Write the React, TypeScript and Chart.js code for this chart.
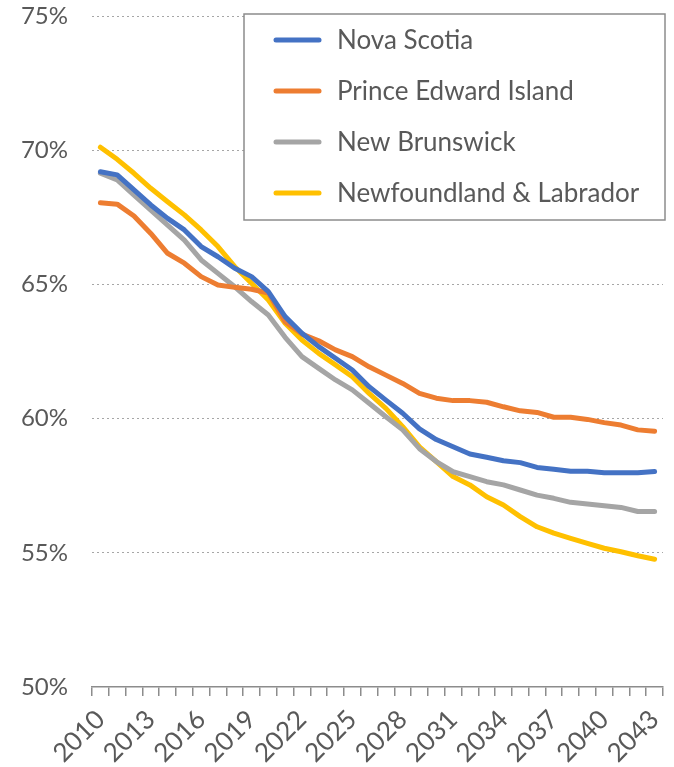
import React, { useEffect, useRef } from "react";
import { Chart, registerables } from "chart.js";

Chart.register(...registerables);

const years: string[] = [
  "2010","2011","2012","2013","2014","2015","2016","2017","2018","2019",
  "2020","2021","2022","2023","2024","2025","2026","2027","2028","2029",
  "2030","2031","2032","2033","2034","2035","2036","2037","2038","2039",
  "2040","2041","2042","2043",
];

const novaScotia: number[] = [
  69.2, 69.08, 68.52, 67.96, 67.46, 67.03, 66.41, 66.03, 65.6, 65.29,
  64.73, 63.8, 63.18, 62.68, 62.25, 61.81, 61.19, 60.69, 60.2, 59.62,
  59.22, 58.95, 58.68, 58.56, 58.43, 58.36, 58.18, 58.11, 58.04, 58.04,
  57.98, 57.98, 57.98, 58.03,
];

const pei: number[] = [
  68.04, 67.99, 67.55, 66.9, 66.16, 65.79, 65.29, 64.98, 64.89, 64.82,
  64.68, 63.61, 63.15, 62.9, 62.56, 62.31, 61.93, 61.62, 61.31, 60.94,
  60.76, 60.67, 60.67, 60.61, 60.44, 60.29, 60.23, 60.05, 60.05, 59.97,
  59.85, 59.76, 59.58, 59.53,
];

const newBrunswick: number[] = [
  69.14, 68.89, 68.33, 67.77, 67.21, 66.65, 65.91, 65.41, 64.91, 64.36,
  63.86, 63.03, 62.31, 61.87, 61.44, 61.07, 60.57, 60.07, 59.58, 58.88,
  58.4, 58.02, 57.84, 57.65, 57.53, 57.34, 57.15, 57.03, 56.88, 56.82,
  56.75, 56.69, 56.54, 56.54,
];

const newfoundland: number[] = [
  70.11, 69.66, 69.14, 68.58, 68.08, 67.59, 67.03, 66.41, 65.66, 65.04,
  64.42, 63.55, 62.93, 62.43, 62.0, 61.56, 60.94, 60.38, 59.7, 58.95,
  58.4, 57.84, 57.53, 57.09, 56.78, 56.35, 55.97, 55.73, 55.54, 55.35,
  55.17, 55.04, 54.89, 54.76,
];

const seriesLabels: string[] = [
  "Nova Scotia",
  "Prince Edward Island",
  "New Brunswick",
  "Newfoundland & Labrador",
];

const colors: string[] = ["#4472C4", "#ED7D31", "#A5A5A5", "#FFC000"];
const FONT = "Lato";
const TEXT = "#595959";

const boxLegend = {
  id: "boxLegend",
  afterDraw(chart: any) {
    const ctx = chart.ctx;
    const left = 244, top = 14, right = 665, bottom = 220;
    ctx.save();
    ctx.fillStyle = "#ffffff";
    ctx.fillRect(left, top, right - left, bottom - top);
    ctx.strokeStyle = "#8c8c8c";
    ctx.lineWidth = 1.5;
    ctx.strokeRect(left, top, right - left, bottom - top);
    ctx.font = `26px ${FONT}`;
    ctx.textBaseline = "middle";
    ctx.textAlign = "left";
    chart.data.datasets.forEach((ds: any, i: number) => {
      const y = 40 + i * 51;
      ctx.strokeStyle = ds.borderColor;
      ctx.lineWidth = 5;
      ctx.lineCap = "round";
      ctx.beginPath();
      ctx.moveTo(276, y);
      ctx.lineTo(319, y);
      ctx.stroke();
      ctx.fillStyle = TEXT;
      ctx.fillText(ds.label, 337, y + 1);
    });
    ctx.restore();
  },
};

export default function App() {
  const ref = useRef<HTMLCanvasElement | null>(null);

  useEffect(() => {
    document.body.style.margin = "0";
    const canvas = ref.current;
    if (!canvas) return;
    const data = [novaScotia, pei, newBrunswick, newfoundland];
    const chart = new Chart(canvas, {
      type: "line",
      data: {
        labels: years,
        datasets: data.map((d, i) => ({
          label: seriesLabels[i],
          data: d,
          borderColor: colors[i],
          backgroundColor: colors[i],
          borderWidth: 5,
          pointRadius: 0,
          tension: 0,
          fill: false,
          borderCapStyle: "round" as const,
          borderJoinStyle: "round" as const,
        })),
      },
      options: {
        animation: false,
        responsive: false,
        maintainAspectRatio: false,
        layout: { padding: { top: 16, right: 11, left: 0, bottom: 0 } },
        plugins: {
          legend: { display: false },
          tooltip: { enabled: false },
        },
        scales: {
          x: {
            type: "category",
            offset: true,
            grid: {
              display: true,
              offset: true,
              drawOnChartArea: false,
              drawTicks: true,
              tickLength: 9,
              color: "#8c8c8c",
              lineWidth: 1.5,
            },
            border: { display: true, color: "#8c8c8c", width: 1.5 },
            ticks: {
              autoSkip: false,
              minRotation: 45,
              maxRotation: 45,
              padding: 8,
              color: TEXT,
              font: { family: FONT, size: 26 },
              callback: (_v: any, idx: number) => (idx % 3 === 0 ? years[idx] : ""),
            },
            afterFit: (scale: any) => {
              scale.height = 80;
              scale.paddingLeft = 0;
              scale.paddingRight = 0;
            },
          },
          y: {
            min: 50,
            max: 75,
            grid: {
              color: (c: any) => (c.tick && c.tick.value === 50 ? "rgba(0,0,0,0)" : "#a6a6a6"),
              lineWidth: 1,
              drawTicks: false,
            },
            border: { display: false, dash: [2, 3] },
            ticks: {
              stepSize: 5,
              padding: 24,
              color: TEXT,
              font: { family: FONT, size: 24 },
              callback: (v: any) => `${v}%`,
            },
            afterFit: (scale: any) => {
              scale.width = 92;
              scale.paddingTop = 0;
              scale.paddingBottom = 0;
            },
          },
        },
      },
      plugins: [boxLegend],
    });
    return () => chart.destroy();
  }, []);

  return (
    <div style={{ width: 674, height: 767 }}>
      <canvas ref={ref} width={674} height={767} style={{ width: 674, height: 767, display: "block" }} />
    </div>
  );
}
